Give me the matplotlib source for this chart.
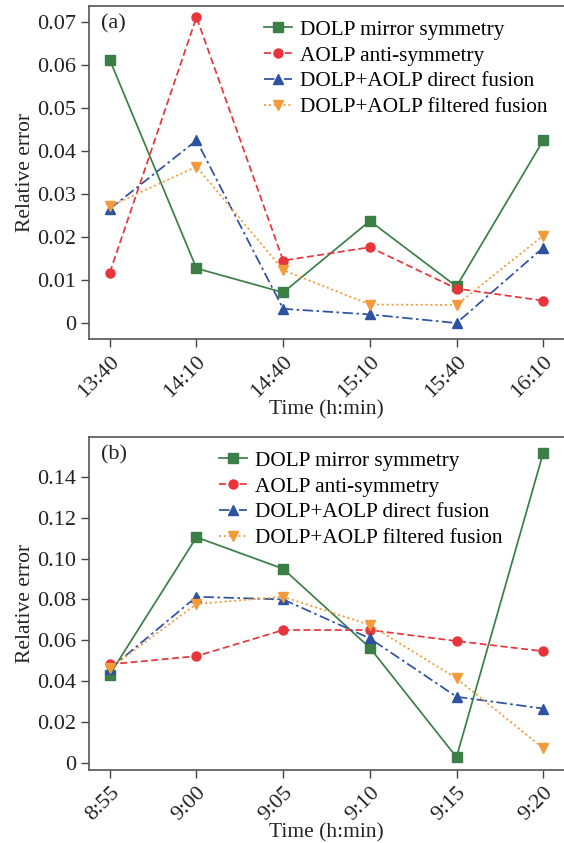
import matplotlib
matplotlib.use("Agg")
import matplotlib.pyplot as plt
from matplotlib.ticker import FixedLocator

plt.rcParams['font.family'] = ['Liberation Serif', 'DejaVu Serif']

# panel (a)
times_a = ["13:40", "14:10", "14:40", "15:10", "15:40", "16:10"]
dolp_a = [0.0611, 0.0127, 0.0071, 0.0237, 0.0085, 0.0424]
aolp_a = [0.0117, 0.0710, 0.0145, 0.0176, 0.0080, 0.0052]
direct_a = [0.0265, 0.0424, 0.0033, 0.0020, 0.0000, 0.0175]
filtered_a = [0.0271, 0.0363, 0.0123, 0.0043, 0.0042, 0.0203]

# panel (b)
times_b = ["8:55", "9:00", "9:05", "9:10", "9:15", "9:20"]
dolp_b = [0.0432, 0.1105, 0.0950, 0.0563, 0.0027, 0.1518]
aolp_b = [0.0482, 0.0522, 0.0650, 0.0650, 0.0596, 0.0546]
direct_b = [0.0460, 0.0813, 0.0800, 0.0609, 0.0323, 0.0265]
filtered_b = [0.0462, 0.0778, 0.0813, 0.0675, 0.0413, 0.0071]

labels = ["DOLP mirror symmetry", "AOLP anti-symmetry",
          "DOLP+AOLP direct fusion", "DOLP+AOLP filtered fusion"]
styles = [
    dict(color="#3b7f47", ls="-", marker="s"),
    dict(color="#e8353b", ls=(0, (4, 2)), marker="o"),
    dict(color="#2d52a0", ls=(0, (6, 2, 1.5, 2)), marker="^"),
    dict(color="#f39a3a", ls=(0, (1.2, 1.6)), marker="v"),
]

fig = plt.figure(figsize=(5.64, 8.43), dpi=100)
ax_a = fig.add_axes([89 / 564, 1 - 339 / 843, 475 / 564, 333 / 843])
ax_b = fig.add_axes([89 / 564, 1 - 770 / 843, 475 / 564, 333 / 843])


def draw(ax, times, series, ylim, yticks, yticklabels, tag, leg_anchor):
    x = list(range(len(times)))
    for vals, lab, st in zip(series, labels, styles):
        ax.plot(x, vals, color=st["color"], linestyle=st["ls"], lw=1.25,
                marker=st["marker"], ms=6.5, label=lab)
    ax.set_xlim(-0.24, 5.24)
    ax.set_ylim(*ylim)
    ax.set_xticks(x)
    ax.set_xticklabels(times, rotation=45, ha="right", va="top",
                       rotation_mode="anchor")
    ax.yaxis.set_major_locator(FixedLocator(yticks))
    ax.set_yticklabels(yticklabels)
    ax.tick_params(direction="out", length=6, width=1, labelsize=16,
                   color="#444444", labelcolor="#222222")
    for s in ["left", "bottom", "top"]:
        ax.spines[s].set_color("#555555")
        ax.spines[s].set_linewidth(1.2)
    ax.spines["right"].set_visible(False)
    ax.set_ylabel("Relative error", fontsize=15.5, color="#222222", labelpad=1)
    ax.set_xlabel("Time (h:min)", fontsize=15.5, color="#222222", labelpad=-1)
    ax.text(0.025, 0.975, tag, transform=ax.transAxes, fontsize=16,
            va="top", ha="left", color="#222222")
    ax.legend(loc="upper right", bbox_to_anchor=leg_anchor, frameon=False,
              fontsize=15.3, handlelength=1.3, handletextpad=0.4,
              labelspacing=0.28, borderaxespad=0.25)


draw(ax_a, times_a, [dolp_a, aolp_a, direct_a, filtered_a],
     (-0.0037, 0.0736), [0, 0.01, 0.02, 0.03, 0.04, 0.05, 0.06, 0.07],
     ["0", "0.01", "0.02", "0.03", "0.04", "0.05", "0.06", "0.07"],
     "(a)", (0.995, 1.0))
draw(ax_b, times_b, [dolp_b, aolp_b, direct_b, filtered_b],
     (-0.0036, 0.1596), [0, 0.02, 0.04, 0.06, 0.08, 0.10, 0.12, 0.14],
     ["0", "0.02", "0.04", "0.06", "0.08", "0.10", "0.12", "0.14"],
     "(b)", (0.90, 1.0))

fig.savefig("out.png", dpi=100)
